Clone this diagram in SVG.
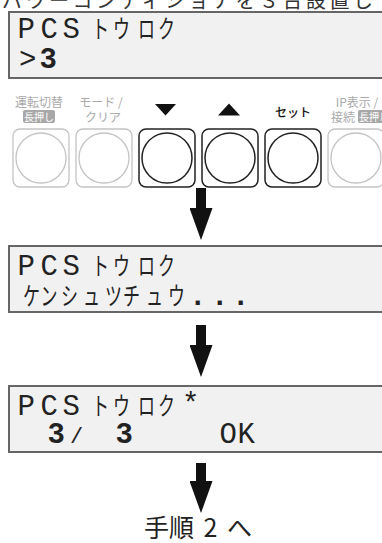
<svg xmlns="http://www.w3.org/2000/svg" width="382" height="543" viewBox="0 0 382 543">
<style>
.lcd{fill:#f1f1f1;stroke:#666;stroke-width:2}
.lat{font-family:"Liberation Mono","DejaVu Sans Mono",monospace;font-size:29px;fill:#222}
.kana{font-family:"Noto Sans CJK JP",sans-serif;font-size:25px;fill:#222}
.btn-off{fill:#fff;stroke:#c4c4c4;stroke-width:1.3}
.btn-on{fill:#fff;stroke:#222;stroke-width:1.5}
.lbl-off{font-family:"Noto Sans CJK JP",sans-serif;font-size:12px;fill:#aaa;text-anchor:middle}
.lbl-on{font-family:"Noto Sans CJK JP",sans-serif;font-size:12px;fill:#111;font-weight:500;text-anchor:middle}
.badge{fill:#a8a8a8}
.badge-t{font-family:"Noto Sans CJK JP",sans-serif;font-size:10px;fill:#fff;text-anchor:middle}
.arrow{stroke:#111;stroke-width:10;fill:none}
</style>
<defs>
<marker id="head" markerUnits="userSpaceOnUse" markerWidth="32" markerHeight="23" refX="1" refY="11.5" orient="auto">
<path d="M0,0 L32,11.5 L0,23 z" fill="#111"/>
</marker>
</defs>

<text x="2" y="8" font-family="Noto Sans CJK JP, sans-serif" font-size="20" fill="#333" letter-spacing="3.5">パワーコンディショナを３台設置して</text>

<g id="lcd1">
<rect class="lcd" x="9" y="12" width="400" height="66"/>
<text class="lat" y="38"><tspan x="17.5">P</tspan><tspan x="40.5">C</tspan><tspan x="62.5">S</tspan></text>
<text class="kana" y="38" transform="scale(0.68,1)"><tspan x="135.3">ト</tspan><tspan x="166.2">ウ</tspan><tspan x="202.9">ロ</tspan><tspan x="232.4">ク</tspan></text>
<text class="lat" y="68"><tspan x="19">&gt;</tspan><tspan x="39.5" font-weight="bold">3</tspan></text>
</g>

<g id="btn-unten">
<text class="lbl-off" x="39" y="107">運転切替</text>
<rect class="badge" x="23" y="110" width="32" height="13" rx="2"/>
<text class="badge-t" x="39" y="120.5">長押し</text>
<rect class="btn-off" x="13" y="129" width="56" height="58" rx="7"/>
<circle class="btn-off" cx="41" cy="158" r="25"/>
</g>
<g id="btn-mode">
<text class="lbl-off" x="101" y="107">モード /</text>
<text class="lbl-off" x="103" y="122">クリア</text>
<rect class="btn-off" x="76" y="129" width="56" height="58" rx="7"/>
<circle class="btn-off" cx="104" cy="158" r="25"/>
</g>
<g id="btn-down">
<polygon points="155,104 176,104 165.5,115.5" fill="#111"/>
<rect class="btn-on" x="139" y="129" width="56" height="58" rx="7"/>
<circle class="btn-on" cx="167" cy="158" r="25"/>
</g>
<g id="btn-up">
<polygon points="218,115.5 240,115.5 229,103.5" fill="#111"/>
<rect class="btn-on" x="202" y="129" width="56" height="58" rx="7"/>
<circle class="btn-on" cx="230" cy="158" r="25"/>
</g>
<g id="btn-set">
<text class="lbl-on" x="293" y="117">セット</text>
<rect class="btn-on" x="265" y="129" width="56" height="58" rx="7"/>
<circle class="btn-on" cx="293" cy="158" r="25"/>
</g>
<g id="btn-ip">
<text class="lbl-off" x="357" y="107">IP表示 /</text>
<text class="lbl-off" x="343" y="122">接続</text>
<rect class="badge" x="358" y="110" width="32" height="13" rx="2"/>
<text class="badge-t" x="374" y="120.5">長押し</text>
<rect class="btn-off" x="328" y="129" width="56" height="58" rx="7"/>
<circle class="btn-off" cx="356" cy="158" r="25"/>
</g>

<g id="lcd2">
<rect class="lcd" x="9" y="246" width="400" height="66"/>
<text class="lat" y="275"><tspan x="17.5">P</tspan><tspan x="40.5">C</tspan><tspan x="62.5">S</tspan></text>
<text class="kana" y="275" transform="scale(0.68,1)"><tspan x="135.3">ト</tspan><tspan x="166.2">ウ</tspan><tspan x="202.9">ロ</tspan><tspan x="232.4">ク</tspan></text>
<text class="kana" y="305" transform="scale(0.68,1)"><tspan x="33.8">ケ</tspan><tspan x="59.6">ン</tspan><tspan x="89.7">シ</tspan><tspan x="122.1">ュ</tspan><tspan x="154.4">ツ</tspan><tspan x="180.9">チ</tspan><tspan x="214.7">ュ</tspan><tspan x="247.1">ウ</tspan></text>
<text class="lat" y="305" font-weight="bold"><tspan x="189">.</tspan><tspan x="211">.</tspan><tspan x="232">.</tspan></text>
</g>

<g id="lcd3">
<rect class="lcd" x="9" y="386" width="400" height="66"/>
<text class="lat" y="415"><tspan x="17.5">P</tspan><tspan x="40.5">C</tspan><tspan x="62.5">S</tspan></text>
<text class="kana" y="415" transform="scale(0.68,1)"><tspan x="135.3">ト</tspan><tspan x="166.2">ウ</tspan><tspan x="202.9">ロ</tspan><tspan x="232.4">ク</tspan></text>
<text class="lat" y="413" font-size="24" x="182">*</text>
<text class="lat" y="443"><tspan x="47.5" font-weight="bold">3</tspan><tspan x="70" font-size="22">/</tspan><tspan x="115.5" font-weight="bold">3</tspan><tspan x="219.5">O</tspan><tspan x="237.5">K</tspan></text>
</g>

<g id="connectors">
<line class="arrow" x1="201" y1="188" x2="201" y2="209" marker-end="url(#head)"/>
<line class="arrow" x1="201" y1="325" x2="201" y2="346" marker-end="url(#head)"/>
<line class="arrow" x1="201" y1="463" x2="201" y2="482" marker-end="url(#head)"/>
</g>

<g id="next">
<text x="198" y="537" font-family="Noto Sans CJK JP, sans-serif" font-size="25" fill="#222" text-anchor="middle" word-spacing="4">手順 2 へ</text>
</g>
</svg>
